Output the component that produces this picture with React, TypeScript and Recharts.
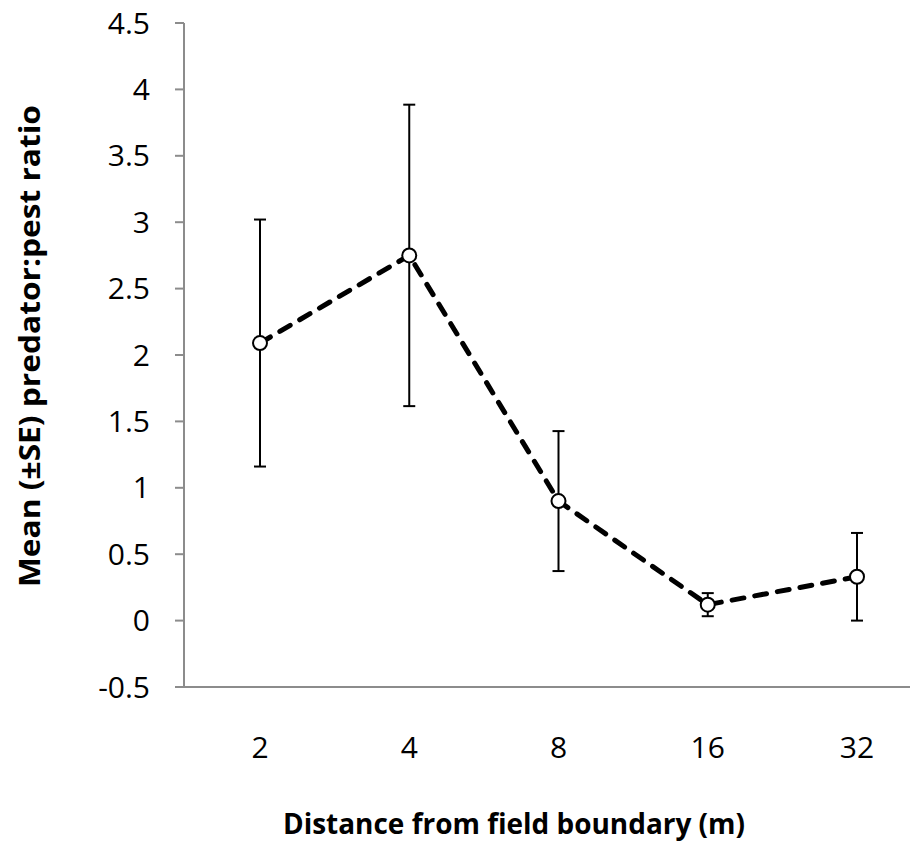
import { LineChart, Line, XAxis, YAxis, ErrorBar } from "recharts";

const distances = ["2", "4", "8", "16", "32"];
const meanRatio = [2.09, 2.75, 0.9, 0.12, 0.33];
const seRatio = [0.93, 1.135, 0.527, 0.087, 0.33];
const yTicks = [-0.5, 0, 0.5, 1, 1.5, 2, 2.5, 3, 3.5, 4, 4.5];

const data = distances.map((d, i) => ({
  name: d,
  mean: meanRatio[i],
  se: seRatio[i],
}));

const FONT = "'Open Sans', 'Liberation Sans', sans-serif";
const AXIS_GREY = "#8c8c8c";

function YTitle() {
  return (
    <text
      x={28}
      y={346}
      transform="rotate(-90, 28, 346)"
      textAnchor="middle"
      dominantBaseline="central"
      fontFamily={FONT}
      fontWeight="bold"
      fontSize={29}
      fill="#000"
      textLength={482}
      lengthAdjust="spacingAndGlyphs"
    >
      Mean (±SE) predator:pest ratio
    </text>
  );
}

function XTitle() {
  return (
    <text
      x={514}
      y={822}
      textAnchor="middle"
      dominantBaseline="central"
      fontFamily={FONT}
      fontWeight="bold"
      fontSize={29}
      fill="#000"
      textLength={462}
      lengthAdjust="spacingAndGlyphs"
    >
      Distance from field boundary (m)
    </text>
  );
}

export default function App() {
  return (
    <div
      style={{
        width: 918,
        height: 852,
        overflow: "hidden",
        marginLeft: -8,
        marginTop: -8,
        background: "#fff",
      }}
    >
      <LineChart
        width={930}
        height={852}
        data={data}
        margin={{ top: 23, right: 0, bottom: 0, left: 0 }}
      >
        <YAxis
          width={184}
          type="number"
          domain={[-0.5, 4.5]}
          ticks={yTicks}
          interval={0}
          allowDataOverflow
          axisLine={{ stroke: AXIS_GREY, strokeWidth: 2 }}
          tickLine={{ stroke: AXIS_GREY, strokeWidth: 2 }}
          tickSize={9}
          tickMargin={25}
          tick={{ fill: "#000", fontSize: 30, fontFamily: FONT }}
          label={{ content: () => <YTitle /> }}
        />
        <XAxis
          dataKey="name"
          height={165}
          padding={{ left: 76, right: 73 }}
          axisLine={{ stroke: AXIS_GREY, strokeWidth: 2 }}
          tickLine={false}
          tickSize={0}
          tickMargin={50}
          interval={0}
          tick={{ fill: "#000", fontSize: 30, fontFamily: FONT }}
          label={{ content: () => <XTitle /> }}
        />
        <Line
          type="linear"
          dataKey="mean"
          stroke="#000"
          strokeWidth={5}
          strokeDasharray="12 11"
          strokeLinecap="round"
          isAnimationActive={false}
          dot={{
            r: 7,
            fill: "#fff",
            stroke: "#000",
            strokeWidth: 2,
            strokeDasharray: "none",
          }}
          activeDot={false}
        >
          <ErrorBar
            dataKey="se"
            direction="y"
            width={6}
            stroke="#000"
            strokeWidth={2}
            isAnimationActive={false}
          />
        </Line>
      </LineChart>
    </div>
  );
}
